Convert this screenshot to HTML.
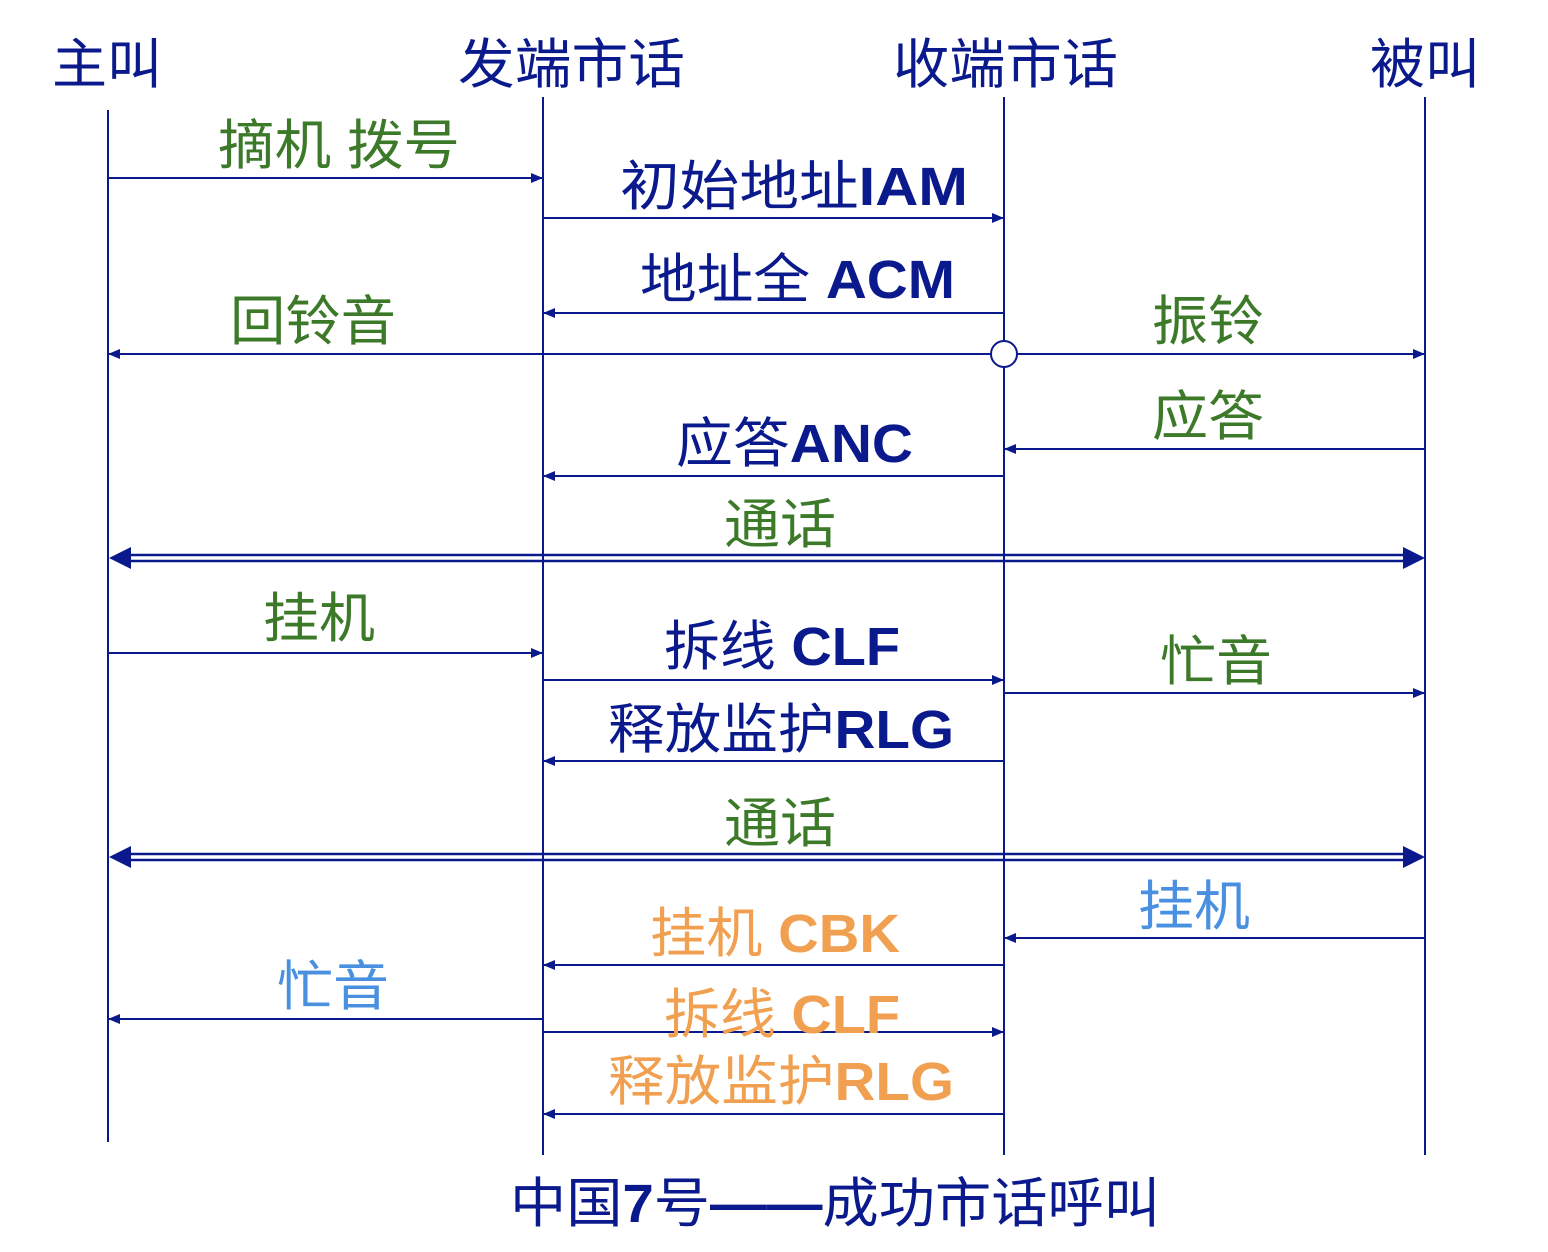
<!DOCTYPE html>
<html><head><meta charset="utf-8"><style>
html,body{margin:0;padding:0;background:#fff;}
svg{display:block;}
text{font-family:"Liberation Sans","Noto Sans CJK SC",sans-serif;font-size:54px;}
.b{fill:#0a1a8c;} .g{fill:#3c7a2a;} .o{fill:#f0a050;} .l{fill:#4a90e0;}
.bd{font-weight:bold;}
</style></head><body>
<svg width="1548" height="1252" viewBox="0 0 1548 1252" xmlns="http://www.w3.org/2000/svg">
<defs>
<marker id="a" markerWidth="12" markerHeight="10" refX="12" refY="5" orient="auto" markerUnits="userSpaceOnUse"><path d="M0,0 L12,5 L0,10 Z" fill="#0a1a8c"/></marker>
</defs>
<g stroke="#0a1a8c" stroke-width="2" fill="none">
<line x1="108" y1="110" x2="108" y2="1142"/>
<line x1="543" y1="97" x2="543" y2="1155"/>
<line x1="1004" y1="97" x2="1004" y2="1155"/>
<line x1="1425" y1="97" x2="1425" y2="1155"/>
<g marker-end="url(#a)">
<line x1="108" y1="178" x2="543" y2="178"/>
<line x1="543" y1="218" x2="1004" y2="218"/>
<line x1="1004" y1="313" x2="543" y2="313"/>
<line x1="991" y1="354" x2="108" y2="354"/>
<line x1="1017" y1="354" x2="1425" y2="354"/>
<line x1="1425" y1="449" x2="1004" y2="449"/>
<line x1="1004" y1="476" x2="543" y2="476"/>
<line x1="108" y1="653" x2="543" y2="653"/>
<line x1="543" y1="680" x2="1004" y2="680"/>
<line x1="1004" y1="693" x2="1425" y2="693"/>
<line x1="1004" y1="761" x2="543" y2="761"/>
<line x1="1425" y1="938" x2="1004" y2="938"/>
<line x1="1004" y1="965" x2="543" y2="965"/>
<line x1="543" y1="1019" x2="108" y2="1019"/>
<line x1="543" y1="1032" x2="1004" y2="1032"/>
<line x1="1004" y1="1114" x2="543" y2="1114"/>
</g>
<circle cx="1004" cy="354" r="13" fill="#fff"/>
<line x1="125" y1="555" x2="1408" y2="555" stroke-width="2.5"/>
<line x1="125" y1="561" x2="1408" y2="561" stroke-width="2.5"/>
<line x1="125" y1="854" x2="1408" y2="854" stroke-width="2.5"/>
<line x1="125" y1="860" x2="1408" y2="860" stroke-width="2.5"/>
</g>
<g fill="#0a1a8c">
<path d="M109,558 L131,547 L131,569 Z"/><path d="M1425,558 L1403,547 L1403,569 Z"/>
<path d="M109,857 L131,846 L131,868 Z"/><path d="M1425,857 L1403,846 L1403,868 Z"/>
</g>
<text class="b" x="52" y="83" textLength="110" lengthAdjust="spacingAndGlyphs">主叫</text>
<text class="b" x="458" y="83" textLength="227" lengthAdjust="spacingAndGlyphs">发端市话</text>
<text class="b" x="893" y="83" textLength="225" lengthAdjust="spacingAndGlyphs">收端市话</text>
<text class="b" x="1370" y="83" textLength="110" lengthAdjust="spacingAndGlyphs">被叫</text>

<text class="g" x="218" y="164" textLength="242" lengthAdjust="spacingAndGlyphs">摘机 拨号</text>
<text class="b" x="620" y="205" textLength="348" lengthAdjust="spacingAndGlyphs">初始地址<tspan class="bd">IAM</tspan></text>
<text class="b" x="640" y="298" textLength="315" lengthAdjust="spacingAndGlyphs">地址全 <tspan class="bd">ACM</tspan></text>
<text class="g" x="230" y="340" textLength="166" lengthAdjust="spacingAndGlyphs">回铃音</text>
<text class="g" x="1152" y="340" textLength="112" lengthAdjust="spacingAndGlyphs">振铃</text>
<text class="g" x="1152" y="435" textLength="112" lengthAdjust="spacingAndGlyphs">应答</text>
<text class="b" x="676" y="462" textLength="237" lengthAdjust="spacingAndGlyphs">应答<tspan class="bd">ANC</tspan></text>
<text class="g" x="724" y="543" textLength="112" lengthAdjust="spacingAndGlyphs">通话</text>
<text class="g" x="263" y="637" textLength="112" lengthAdjust="spacingAndGlyphs">挂机</text>
<text class="b" x="664" y="665" textLength="236" lengthAdjust="spacingAndGlyphs">拆线 <tspan class="bd">CLF</tspan></text>
<text class="g" x="1160" y="680" textLength="112" lengthAdjust="spacingAndGlyphs">忙音</text>
<text class="b" x="608" y="748" textLength="346" lengthAdjust="spacingAndGlyphs">释放监护<tspan class="bd">RLG</tspan></text>
<text class="g" x="724" y="842" textLength="112" lengthAdjust="spacingAndGlyphs">通话</text>
<text class="l" x="1138" y="925" textLength="112" lengthAdjust="spacingAndGlyphs">挂机</text>
<text class="o" x="650" y="952" textLength="250" lengthAdjust="spacingAndGlyphs">挂机 <tspan class="bd">CBK</tspan></text>
<text class="l" x="277" y="1005" textLength="112" lengthAdjust="spacingAndGlyphs">忙音</text>
<text class="o" x="664" y="1033" textLength="236" lengthAdjust="spacingAndGlyphs">拆线 <tspan class="bd">CLF</tspan></text>
<text class="o" x="608" y="1100" textLength="346" lengthAdjust="spacingAndGlyphs">释放监护<tspan class="bd">RLG</tspan></text>
<text class="b" x="510" y="1222" textLength="650" lengthAdjust="spacingAndGlyphs">中国<tspan class="bd">7</tspan>号<tspan class="bd">——</tspan>成功市话呼叫</text>
</svg>
</body></html>
